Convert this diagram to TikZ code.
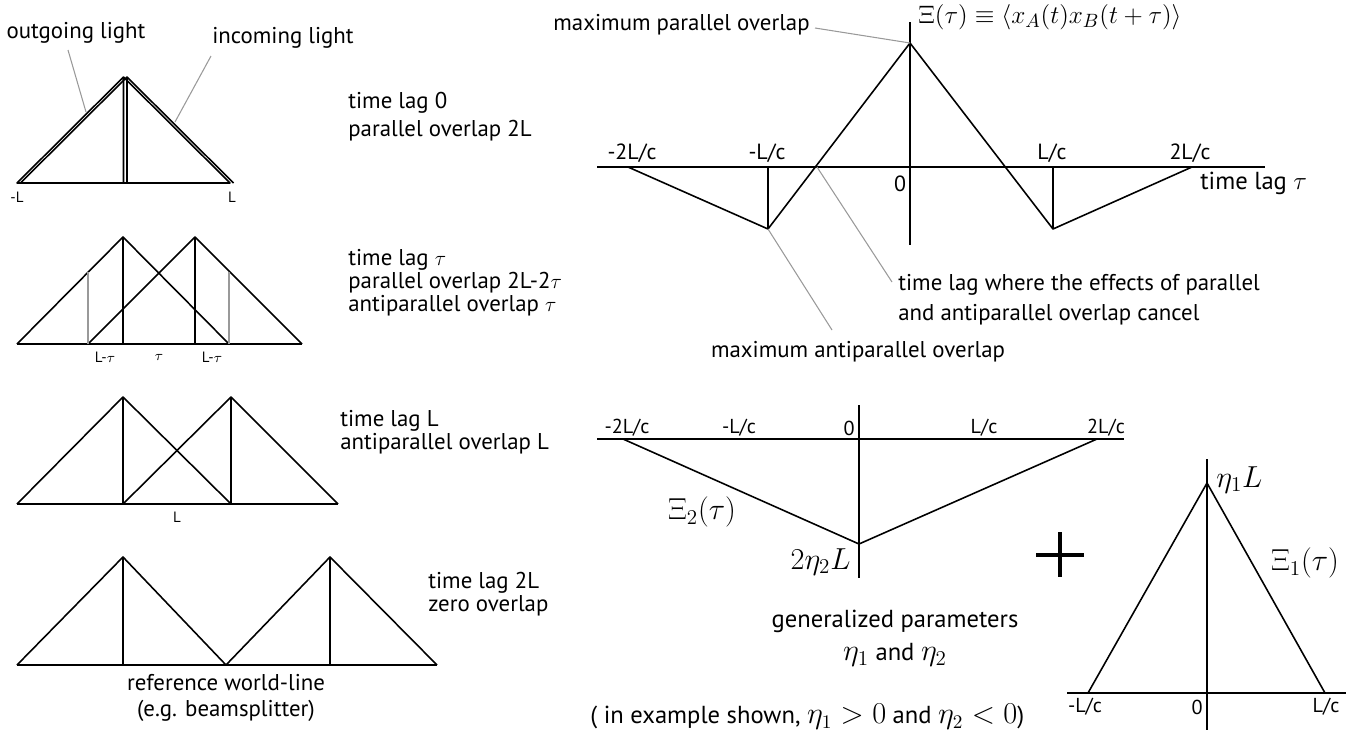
\documentclass[tikz,border=0pt]{standalone}
\usepackage[no-math]{fontspec}
\setmainfont{PT Sans}
\usepackage{amsmath}
\usetikzlibrary{positioning}

\newcommand{\bigeta}[1]{{\fontsize{16.5}{17}\selectfont$\eta_{#1}$}}

\begin{document}
\begin{tikzpicture}[
    x=0.02cm, y=-0.02cm,
    wl/.style={line width=0.9pt, line join=round},
    lead/.style={draw=black!40, line width=0.6pt},
    txt/.style={font=\fontsize{13}{13}\selectfont, align=left, inner sep=0pt},
    tick/.style={font=\fontsize{12.5}{13}\selectfont, inner sep=0pt},
    stick/.style={font=\fontsize{11.5}{13}\selectfont, inner sep=0pt},
    lbl/.style={font=\fontsize{8.5}{10}\selectfont, inner sep=0pt},
    big/.style={font=\fontsize{17}{20}\selectfont, inner sep=0pt},
    note/.style={font=\fontsize{14}{17}\selectfont, align=center, inner sep=0pt}
  ]
  \useasboundingbox (0,0) rectangle (1367,734);

  % time lag 0
  \draw[wl] (17,183) -- (123.5,77) -- (230,183) -- cycle (123.5,77) -- (123.5,183);
  \draw[wl] (20.5,183) -- (127,77) -- (233.5,183) (127,77) -- (127,183);
  \node[lbl] (mL0) at (17,197) {-L};
  \node[lbl] (pL0) at (232,197) {L};
  \node[txt] (outl) at (76,33) {outgoing light};
  \node[txt] (inl) at (283,38) {incoming light};
  \coordinate (outa) at (68,50);
  \coordinate (outb) at (86,112);
  \coordinate (ina) at (211,56);
  \coordinate (inb) at (175,122);
  \draw[lead] (outa) -- (outb);
  \draw[lead] (ina) -- (inb);
  \node[txt, anchor=west] (lag0) at (348,117) {time lag 0\\[3pt]parallel overlap 2L};

  % time lag tau
  \draw[wl] (17,344) -- (123,237) -- (229,344) (123,237) -- (123,344);
  \draw[wl] (88,344) -- (195,237) -- (302,344) (195,237) -- (195,344);
  \draw[wl] (17,344) -- (302,344);
  \draw[lead] (88,344) -- (88,272) (229,344) -- (229,272);
  \node[lbl] (lt1) at (105,357) {L-$\tau$};
  \node[lbl] (lt2) at (159,357) {$\tau$};
  \node[lbl] (lt3) at (212,357) {L-$\tau$};
  \node[txt, anchor=west] (lagtau) at (348,283) {time lag $\tau$\\parallel overlap 2L-2$\tau$\\antiparallel overlap $\tau$};

  % time lag L
  \draw[wl] (17,504) -- (123,397) -- (231,504) (123,397) -- (123,504);
  \draw[wl] (123,504) -- (231,397) -- (338,504) (231,397) -- (231,504);
  \draw[wl] (17,504) -- (338,504);
  \node[lbl] (lL) at (177,517) {L};
  \node[txt, anchor=west] (lagL) at (340,432) {time lag L\\antiparallel overlap L};

  % time lag 2L
  \draw[wl] (17,665) -- (123,557) -- (226,665) (123,557) -- (123,665);
  \draw[wl] (226,665) -- (330,557) -- (437,665) (330,557) -- (330,665);
  \draw[wl] (17,665) -- (437,665);
  \node[txt, align=center] (refwl) at (226,698) {reference world-line\\[2pt](e.g. beamsplitter)};
  \node[txt, anchor=west] (lag2L) at (428,594) {time lag 2L\\zero overlap};

  % correlation function
  \draw[wl] (597,167) -- (1265,167);
  \draw[wl] (910,22) -- (910,245);
  \coordinate (peak) at (910,43);
  \coordinate (amin) at (768,229);
  \coordinate (zero) at (817,167);
  \draw[wl] (628,167) -- (amin) -- (peak) -- (1053,229) -- (1192,167);
  \draw[wl] (768,167) -- (amin) (1053,167) -- (1053,229);
  \node[tick] (t1) at (632,153) {-2L/c};
  \node[tick] (t2) at (767,153) {-L/c};
  \node[tick] (t3) at (900,184) {0};
  \node[tick] (t4) at (1052,153) {L/c};
  \node[tick] (t5) at (1190,153) {2L/c};
  \node[anchor=west, inner sep=0pt, font=\fontsize{14}{16}\selectfont] (tlag) at (1200,183) {time lag $\tau$};
  \node[anchor=west, inner sep=0pt, font=\fontsize{15}{17}\selectfont] (xi) at (918,17)
    {$\Xi(\tau)\equiv\langle x_A(t)x_B(t+\tau)\rangle$};
  \node[txt, anchor=east] (mpo) at (810,25) {maximum parallel overlap};
  \node[txt] (mao) at (858,352) {maximum antiparallel overlap};
  \node[txt, anchor=west] (canc) at (898,300) {time lag where the effects of parallel\\[4pt]and antiparallel overlap cancel};
  \coordinate (mpoa) at (815,28);
  \coordinate (maoa) at (832,330);
  \coordinate (canca) at (892,282);
  \draw[lead] (mpoa) -- (peak);
  \draw[lead] (amin) -- (maoa);
  \draw[lead] (zero) -- (canca);

  % antiparallel part
  \draw[wl] (597,439) -- (1124,439);
  \draw[wl] (859,405) -- (859,578);
  \draw[wl] (623,439) -- (859,544) -- (1097,439);
  \node[stick] (u1) at (627,428) {-2L/c};
  \node[stick] (u2) at (739,428) {-L/c};
  \node[stick] (u3) at (849,428) {0};
  \node[stick] (u4) at (984,428) {L/c};
  \node[stick] (u5) at (1106,428) {2L/c};
  \node[big] (xi2) at (702,512) {$\Xi_2(\tau)$};
  \node[big, anchor=east] (eta2) at (851,562) {$2\eta_2L$};
  \draw[line width=1.9pt] (1036,555) -- (1084,555) (1060,532) -- (1060,577);

  % parallel part
  \draw[wl] (1067,693) -- (1346,693);
  \draw[wl] (1207,459) -- (1207,730);
  \draw[wl] (1088,693) -- (1207,483) -- (1325,693);
  \node[stick] (v1) at (1085,707) {-L/c};
  \node[stick] (v2) at (1197,707) {0};
  \node[stick] (v3) at (1326,707) {L/c};
  \node[big, anchor=west] (eta1) at (1216,480) {$\eta_1L$};
  \node[big] (xi1) at (1305,563) {$\Xi_1(\tau)$};

  \node[note] (gen) at (895,638) {generalized parameters\\[2pt]\bigeta{1} and \bigeta{2}};
  \node[note, anchor=west] (ex) at (590,717)
    {( in example shown, {\fontsize{16}{17}\selectfont$\eta_1>0$} and {\fontsize{16}{17}\selectfont$\eta_2<0$})};
\end{tikzpicture}
\end{document}
